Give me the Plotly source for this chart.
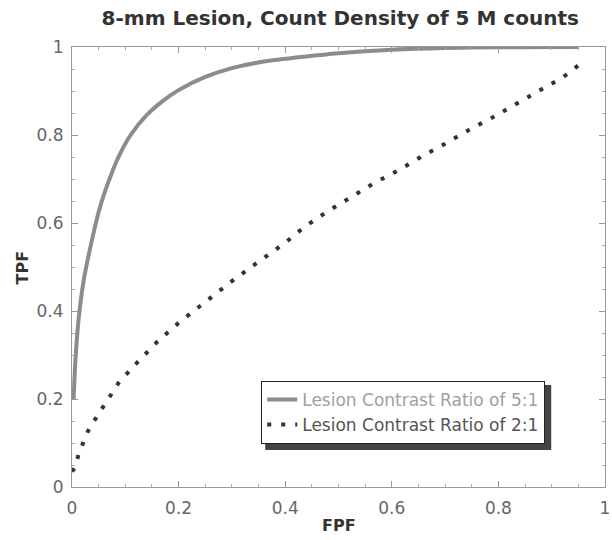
import plotly.graph_objects as go

# Lesion contrast ratio 5:1 (solid gray)
fpf_5 = [0.003, 0.006, 0.01, 0.015, 0.022, 0.03, 0.04, 0.05, 0.06, 0.075, 0.09, 0.11,
         0.14, 0.17, 0.2, 0.25, 0.3, 0.36, 0.435, 0.5, 0.6, 0.7, 0.8, 0.95]
tpf_5 = [0.2, 0.28, 0.35, 0.41, 0.47, 0.52, 0.575, 0.625, 0.665, 0.715, 0.757, 0.8,
         0.845, 0.877, 0.902, 0.932, 0.952, 0.967, 0.978, 0.986, 0.994, 0.998, 0.9995, 1.0]

# Lesion contrast ratio 2:1 (dotted dark)
fpf_2 = [0.0, 0.005, 0.013, 0.02, 0.03, 0.044, 0.058, 0.074, 0.087, 0.12, 0.16, 0.2,
         0.25, 0.3, 0.35, 0.4, 0.435, 0.48, 0.524, 0.567, 0.613, 0.657, 0.70, 0.744,
         0.789, 0.835, 0.88, 0.922, 0.95]
tpf_2 = [0.035, 0.043, 0.077, 0.1, 0.127, 0.155, 0.182, 0.213, 0.236, 0.28, 0.33, 0.373,
         0.42, 0.468, 0.512, 0.555, 0.59, 0.627, 0.659, 0.691, 0.72, 0.752, 0.78, 0.811,
         0.84, 0.872, 0.902, 0.932, 0.958]

series_names = ["Lesion Contrast Ratio of 5:1", "Lesion Contrast Ratio of 2:1"]
tick_vals = [0, 0.2, 0.4, 0.6, 0.8, 1]
tick_text = ["0", "0.2", "0.4", "0.6", "0.8", "1"]

FONT = "DejaVu Sans, Verdana, sans-serif"
LEG_X, LEG_Y = 0.355, 0.241

fig = go.Figure()
fig.add_trace(go.Scatter(
    x=fpf_5, y=tpf_5, mode="lines", line=dict(color="#8c8c8c", width=4, shape="spline", smoothing=0.6),
    name="<span style='color:#a0a0a0'>" + series_names[0] + "</span>"))
fig.add_trace(go.Scatter(
    x=fpf_2, y=tpf_2, mode="lines", line=dict(color="#333333", width=4, dash="4px,10px"),
    name="<span style='color:#555555'>" + series_names[1] + "</span>"))

axis_common = dict(
    range=[0, 1], tickvals=tick_vals, ticktext=tick_text, ticks="inside", ticklen=6,
    tickcolor="#999", tickwidth=1, showline=True, linecolor="#999", linewidth=1,
    mirror="ticks", showgrid=False, zeroline=False, automargin=False,
    tickfont=dict(family=FONT, size=17, color="#666"),
    minor=dict(dtick=0.05, ticks="inside", ticklen=3, tickcolor="#aaa", showgrid=False),
)

fig.update_layout(
    width=612, height=540, template="none",
    margin=dict(l=72, r=7, t=47, b=53),
    paper_bgcolor="white", plot_bgcolor="white",
    title=dict(text="<b>8-mm Lesion, Count Density of 5 M counts</b>",
               x=0.556, xanchor="center", xref="container",
               y=1 - 18 / 540, yanchor="middle", yref="container",
               font=dict(family=FONT, size=20, color="#333")),
    xaxis=dict(axis_common, ticklabelstandoff=6),
    yaxis=dict(axis_common, ticklabelstandoff=4),
    showlegend=True,
    legend=dict(x=LEG_X, y=LEG_Y, xanchor="left", yanchor="top",
                bgcolor="white", bordercolor="#222", borderwidth=1,
                font=dict(family=FONT, size=17, color="#666"),
                tracegroupgap=0),
    shapes=[
        dict(type="rect", layer="above", xref="paper", yref="paper",
             xsizemode="pixel", ysizemode="pixel", xanchor=LEG_X, yanchor=LEG_Y,
             x0=4, x1=290, y0=-4, y1=-69,
             fillcolor="#444", line=dict(width=0)),
    ],
    annotations=[
        dict(text="<b>FPF</b>", x=0.5, y=-0.088, xref="paper", yref="paper",
             showarrow=False, xanchor="center", yanchor="middle",
             font=dict(family=FONT, size=16, color="#333")),
        dict(text="<b>TPF</b>", x=-0.093, y=0.5, xref="paper", yref="paper",
             showarrow=False, textangle=-90, xanchor="center", yanchor="middle",
             font=dict(family=FONT, size=16, color="#333")),
    ],
)

fig.write_html("out.html")
